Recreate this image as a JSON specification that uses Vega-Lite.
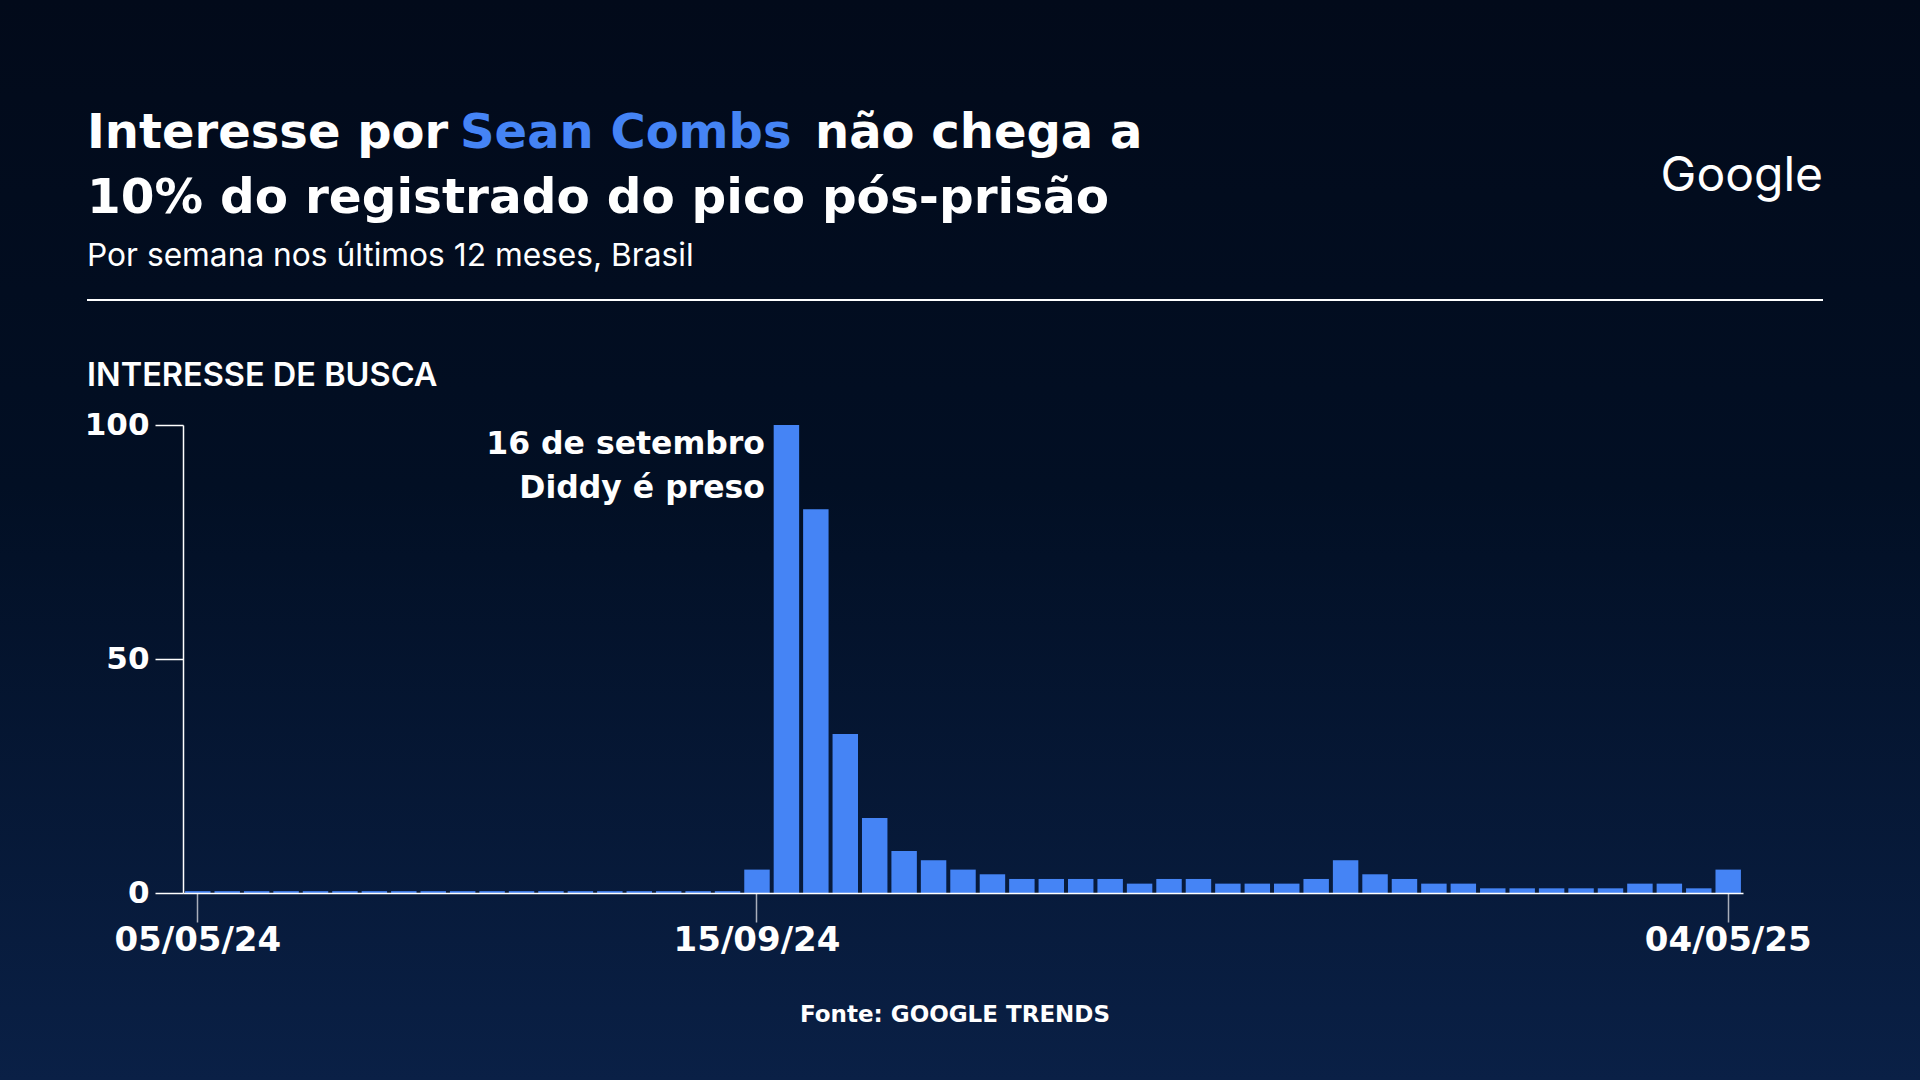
{
  "$schema": "https://vega.github.io/schema/vega-lite/v6.json",
  "width": 1560,
  "height": 468,
  "autosize": {"type": "none"},
  "padding": {"left": 183, "top": 425, "right": 177, "bottom": 187},
  "background": "#020b1c",
  "config": {"view": {"stroke": null}, "font": "DejaVu Sans"},
  "data": {"values": [
    {"semana": "05/05/24", "interesse": 0.4},
    {"semana": "12/05/24", "interesse": 0.4},
    {"semana": "19/05/24", "interesse": 0.4},
    {"semana": "26/05/24", "interesse": 0.4},
    {"semana": "02/06/24", "interesse": 0.4},
    {"semana": "09/06/24", "interesse": 0.4},
    {"semana": "16/06/24", "interesse": 0.4},
    {"semana": "23/06/24", "interesse": 0.4},
    {"semana": "30/06/24", "interesse": 0.4},
    {"semana": "07/07/24", "interesse": 0.4},
    {"semana": "14/07/24", "interesse": 0.4},
    {"semana": "21/07/24", "interesse": 0.4},
    {"semana": "28/07/24", "interesse": 0.4},
    {"semana": "04/08/24", "interesse": 0.4},
    {"semana": "11/08/24", "interesse": 0.4},
    {"semana": "18/08/24", "interesse": 0.4},
    {"semana": "25/08/24", "interesse": 0.4},
    {"semana": "01/09/24", "interesse": 0.4},
    {"semana": "08/09/24", "interesse": 0.4},
    {"semana": "15/09/24", "interesse": 5, "nota": "16 de setembro\nDiddy é preso"},
    {"semana": "22/09/24", "interesse": 100},
    {"semana": "29/09/24", "interesse": 82},
    {"semana": "06/10/24", "interesse": 34},
    {"semana": "13/10/24", "interesse": 16},
    {"semana": "20/10/24", "interesse": 9},
    {"semana": "27/10/24", "interesse": 7},
    {"semana": "03/11/24", "interesse": 5},
    {"semana": "10/11/24", "interesse": 4},
    {"semana": "17/11/24", "interesse": 3},
    {"semana": "24/11/24", "interesse": 3},
    {"semana": "01/12/24", "interesse": 3},
    {"semana": "08/12/24", "interesse": 3},
    {"semana": "15/12/24", "interesse": 2},
    {"semana": "22/12/24", "interesse": 3},
    {"semana": "29/12/24", "interesse": 3},
    {"semana": "05/01/25", "interesse": 2},
    {"semana": "12/01/25", "interesse": 2},
    {"semana": "19/01/25", "interesse": 2},
    {"semana": "26/01/25", "interesse": 3},
    {"semana": "02/02/25", "interesse": 7},
    {"semana": "09/02/25", "interesse": 4},
    {"semana": "16/02/25", "interesse": 3},
    {"semana": "23/02/25", "interesse": 2},
    {"semana": "02/03/25", "interesse": 2},
    {"semana": "09/03/25", "interesse": 1},
    {"semana": "16/03/25", "interesse": 1},
    {"semana": "23/03/25", "interesse": 1},
    {"semana": "30/03/25", "interesse": 1},
    {"semana": "06/04/25", "interesse": 1},
    {"semana": "13/04/25", "interesse": 2},
    {"semana": "20/04/25", "interesse": 2},
    {"semana": "27/04/25", "interesse": 1},
    {"semana": "04/05/25", "interesse": 5}
  ]},
  "layer": [
    {
      "data": {"values": [{}]},
      "mark": {"type": "rect", "x": -183, "x2": 1737, "y": -425, "y2": 655,
        "fill": {"gradient": "linear", "x1": 0, "y1": 0, "x2": 0, "y2": 1,
          "stops": [
            {"offset": 0, "color": "#020a1a"},
            {"offset": 0.45, "color": "#020f24"},
            {"offset": 1, "color": "#0a2046"}
          ]}},
      "encoding": {}
    },
    {
      "mark": {"type": "bar", "color": "#4584f5"},
      "encoding": {
        "x": {"field": "semana", "type": "ordinal", "sort": null,
          "scale": {"paddingInner": 0.135, "paddingOuter": 0.07},
          "axis": {"values": ["05/05/24", "15/09/24", "04/05/25"], "title": null,
            "labelAngle": 0, "domainColor": "#ffffff", "domainWidth": 1.5,
            "tickColor": "#a8aebb", "tickSize": 29, "tickWidth": 1.5,
            "labelFont": "DejaVu Sans", "labelFontWeight": "bold", "labelFontSize": 34,
            "labelColor": "#ffffff", "labelPadding": 1, "zindex": 1}},
        "y": {"field": "interesse", "type": "quantitative",
          "scale": {"domain": [0, 100], "nice": false},
          "axis": {"values": [0, 50, 100], "title": null, "grid": false,
            "domainColor": "#ffffff", "domainWidth": 1.5,
            "tickColor": "#ffffff", "tickSize": 28, "tickWidth": 1.5,
            "labelFont": "DejaVu Sans", "labelFontWeight": "bold", "labelFontSize": 31,
            "labelColor": "#ffffff", "labelPadding": 6, "zindex": 1}}
      }
    },
    {
      "transform": [{"filter": "datum.nota"}],
      "mark": {"type": "text", "align": "right", "baseline": "alphabetic", "dx": 8, "dy": 29,
        "lineBreak": "\n", "lineHeight": 44, "font": "DejaVu Sans", "fontWeight": "bold",
        "fontSize": 31.5, "color": "#ffffff"},
      "encoding": {
        "x": {"field": "semana", "type": "ordinal", "sort": null},
        "y": {"datum": 100},
        "text": {"field": "nota"}
      }
    },
    {
      "data": {"values": [{}]},
      "mark": {"type": "text", "text": "Interesse por", "x": -96, "y": -277, "align": "left",
        "baseline": "alphabetic", "font": "DejaVu Sans", "fontWeight": "bold", "fontSize": 48, "color": "#ffffff"}
    },
    {
      "data": {"values": [{}]},
      "mark": {"type": "text", "text": "Sean Combs", "x": 277, "y": -277, "align": "left",
        "baseline": "alphabetic", "font": "DejaVu Sans", "fontWeight": "bold", "fontSize": 48, "color": "#4584f5"}
    },
    {
      "data": {"values": [{}]},
      "mark": {"type": "text", "text": "não chega a", "x": 632, "y": -277, "align": "left",
        "baseline": "alphabetic", "font": "DejaVu Sans", "fontWeight": "bold", "fontSize": 48, "color": "#ffffff"}
    },
    {
      "data": {"values": [{}]},
      "mark": {"type": "text", "text": "10% do registrado do pico pós-prisão", "x": -96, "y": -212, "align": "left",
        "baseline": "alphabetic", "font": "DejaVu Sans", "fontWeight": "bold", "fontSize": 48.5, "color": "#ffffff"}
    },
    {
      "data": {"values": [{}]},
      "mark": {"type": "text", "text": "Por semana nos últimos 12 meses, Brasil", "x": -96, "y": -159, "align": "left",
        "baseline": "alphabetic", "font": "Inter", "fontWeight": "normal", "fontSize": 31.7, "color": "#ffffff"}
    },
    {
      "data": {"values": [{}]},
      "mark": {"type": "text", "text": "Google", "x": 1640, "y": -234, "align": "right",
        "baseline": "alphabetic", "font": "Inter", "fontWeight": "normal", "fontSize": 48, "color": "#ffffff"}
    },
    {
      "data": {"values": [{}]},
      "mark": {"type": "rule", "color": "#ffffff", "strokeWidth": 2},
      "encoding": {"x": {"value": -96}, "x2": {"value": 1640}, "y": {"value": -125}}
    },
    {
      "data": {"values": [{}]},
      "mark": {"type": "text", "text": "INTERESSE DE BUSCA", "x": -96, "y": -39, "align": "left",
        "baseline": "alphabetic", "font": "Inter", "fontWeight": 600, "fontSize": 32.5, "color": "#ffffff"}
    },
    {
      "data": {"values": [{}]},
      "mark": {"type": "text", "text": "Fonte: GOOGLE TRENDS", "x": 772, "y": 597, "align": "center",
        "baseline": "alphabetic", "font": "DejaVu Sans", "fontWeight": "bold", "fontSize": 23, "color": "#ffffff"}
    }
  ]
}
